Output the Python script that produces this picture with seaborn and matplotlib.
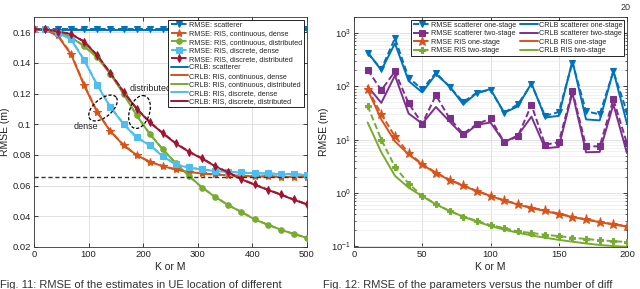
import numpy as np
import pandas as pd
import matplotlib
matplotlib.use("Agg")
import matplotlib.pyplot as plt
import seaborn as sns

# ---------------- data: left panel ----------------
K_left = [0, 20, 44, 68, 92, 116, 140, 164, 188, 212, 236, 260, 284, 308, 332, 356, 380, 404, 428, 452, 476, 500]
rmse_scatterer = [0.1625] * 22
rmse_cont_dense = [0.162, 0.162, 0.158, 0.146, 0.1257, 0.108, 0.0956, 0.0865, 0.080, 0.0756, 0.0728,
                   0.0706, 0.069, 0.068, 0.0674, 0.0668, 0.0664, 0.0662, 0.066, 0.0659, 0.0658, 0.0658]
rmse_cont_dist = [0.162, 0.162, 0.1605, 0.157, 0.151, 0.1437, 0.133, 0.120, 0.106, 0.0938, 0.0837,
                  0.0746, 0.0663, 0.0588, 0.0527, 0.0473, 0.0429, 0.0381, 0.0346, 0.0314, 0.0285, 0.0261]
rmse_disc_dense = [0.162, 0.162, 0.1598, 0.1556, 0.142, 0.1257, 0.1114, 0.1004, 0.0916, 0.0866, 0.0793,
                   0.0739, 0.0719, 0.0706, 0.0698, 0.0691, 0.0687, 0.0682, 0.068, 0.0678, 0.0676, 0.0670]
rmse_disc_dist = [0.162, 0.162, 0.1605, 0.159, 0.154, 0.145, 0.1334, 0.1213, 0.1103, 0.1015, 0.0943,
                  0.0876, 0.0822, 0.0778, 0.0728, 0.0686, 0.0643, 0.0608, 0.0575, 0.0543, 0.051, 0.0479]
crlb_scatterer = [0.1612] * 22
crlb_cont_dense = [0.162, 0.1618, 0.1575, 0.1455, 0.1252, 0.1077, 0.0954, 0.0863, 0.0799, 0.0755, 0.0727,
                   0.0705, 0.0689, 0.0679, 0.0673, 0.0667, 0.0663, 0.0661, 0.0659, 0.0658, 0.0657, 0.0657]
crlb_cont_dist = [0.162, 0.1618, 0.1603, 0.1568, 0.1508, 0.1435, 0.1328, 0.1198, 0.1058, 0.0937, 0.0836,
                  0.0745, 0.0662, 0.0587, 0.0526, 0.0472, 0.0428, 0.0380, 0.0345, 0.0313, 0.0284, 0.0260]
crlb_disc_dense = [0.162, 0.1618, 0.1596, 0.1553, 0.1417, 0.1254, 0.1111, 0.1001, 0.0913, 0.0864, 0.0791,
                   0.0737, 0.0717, 0.0704, 0.0696, 0.0689, 0.0685, 0.0680, 0.0678, 0.0676, 0.0674, 0.0668]
crlb_disc_dist = [0.162, 0.1618, 0.1603, 0.1588, 0.1538, 0.1448, 0.1332, 0.1211, 0.1101, 0.1013, 0.0941,
                  0.0874, 0.0820, 0.0776, 0.0726, 0.0684, 0.0641, 0.0606, 0.0573, 0.0541, 0.0508, 0.0477]
asymptote_left = 0.0657

# ---------------- data: right panel ----------------
K_right = [10, 20, 30, 40, 50, 60, 70, 80, 90, 100, 110, 120, 130, 140, 150, 160, 170, 180, 190, 200]
rmse_sc_one = [420, 210, 800, 145, 88, 180, 98, 51, 76, 86, 32, 46, 110, 28, 33, 280, 34, 30, 190, 33]
rmse_sc_two = [204, 85, 190, 48, 20, 68, 25, 13, 19.5, 25, 9, 11.5, 45, 8, 9, 82, 7.5, 7.5, 57, 8.5]
rmse_ris_one = [90, 30, 11.5, 5.6, 3.5, 2.4, 1.78, 1.39, 1.09, 0.89, 0.73, 0.62, 0.53, 0.47, 0.41,
                0.36, 0.32, 0.29, 0.26, 0.24]
rmse_ris_two = [43, 10, 3.1, 1.5, 0.88, 0.62, 0.46, 0.36, 0.30, 0.25, 0.22, 0.19, 0.178, 0.165, 0.155,
                0.145, 0.137, 0.130, 0.125, 0.120]
crlb_sc_one = [440, 200, 640, 126, 77, 170, 100, 46, 75, 89, 32, 42, 114, 26, 28, 300, 24, 23, 195, 20]
crlb_sc_two = [100, 49, 160, 31, 20, 41, 22, 12, 19, 21, 9, 12, 27, 6.9, 7.3, 76, 5.8, 5.9, 46, 5.6]
crlb_ris_one = [86, 24, 9.3, 5.3, 3.4, 2.35, 1.75, 1.37, 1.08, 0.88, 0.72, 0.61, 0.52, 0.46, 0.40,
                0.355, 0.315, 0.285, 0.255, 0.235]
crlb_ris_two = [21, 5.8, 2.1, 1.26, 0.87, 0.61, 0.46, 0.36, 0.29, 0.24, 0.205, 0.18, 0.16, 0.145, 0.132,
                0.122, 0.113, 0.106, 0.101, 0.098]

C_BLUE = "#0072BD"
C_ORANGE = "#D95319"
C_GREEN = "#77AC30"
C_CYAN = "#4DBEEE"
C_RED = "#A2142F"
C_PURPLE = "#7E2F8E"

sns.set_theme(style="ticks")
plt.rcParams["font.family"] = ["Liberation Sans", "DejaVu Sans"]
plt.rcParams["mathtext.fontset"] = "custom"
plt.rcParams["mathtext.rm"] = "Liberation Sans"

fig = plt.figure(figsize=(6.4, 2.89), dpi=100)
axL = fig.add_axes([34 / 640, 1 - 247 / 289, 273 / 640, 230 / 289])
axR = fig.add_axes([354 / 640, 1 - 247 / 289, 273 / 640, 230 / 289])


def draw(ax, x, y, color, marker=None, dashed=False, label=None, ms=4.5, lw=1.4, z=3):
    df = pd.DataFrame({"x": x, "y": y})
    kw = dict(color=color, linewidth=lw, label=label, zorder=z)
    if dashed:
        kw.update(linestyle=(0, (3.2, 1.6)), marker=marker, markersize=ms,
                  markeredgecolor=color, markerfacecolor=color)
    else:
        kw.update(linestyle="-")
    sns.lineplot(data=df, x="x", y="y", ax=ax, legend=False, **kw)


def ordered_legend(ax, order, **kw):
    h, l = ax.get_legend_handles_labels()
    d = dict(zip(l, h))
    leg = ax.legend([d[k] for k in order], order, **kw)
    leg.get_frame().set_linewidth(0.6)
    return leg


# ----- left panel -----
left_rmse = [
    (rmse_scatterer, C_BLUE, "v", "RMSE: scatterer"),
    (rmse_cont_dense, C_ORANGE, "*", "RMSE: RIS, continuous, dense"),
    (rmse_cont_dist, C_GREEN, "o", "RMSE: RIS, continuous, distributed"),
    (rmse_disc_dense, C_CYAN, "s", "RMSE: RIS, discrete, dense"),
    (rmse_disc_dist, C_RED, "d", "RMSE: RIS, discrete, distributed"),
]
left_crlb = [
    (crlb_scatterer, C_BLUE, "CRLB: scatterer"),
    (crlb_cont_dense, C_ORANGE, "CRLB: RIS, continuous, dense"),
    (crlb_cont_dist, C_GREEN, "CRLB: RIS, continuous, distributed"),
    (crlb_disc_dense, C_CYAN, "CRLB: RIS, discrete, dense"),
    (crlb_disc_dist, C_RED, "CRLB: RIS, discrete, distributed"),
]
for y, c, lab in left_crlb:
    draw(axL, K_left, y, c, label=lab, z=2)
for y, c, m, lab in left_rmse:
    ms = 6 if m == "*" else 4
    draw(axL, K_left, y, c, marker=m, dashed=True, label=lab, ms=ms, z=3)

axL.plot([0, 500], [asymptote_left, asymptote_left], color="#333333", lw=1.0,
         linestyle=(0, (3, 2)), zorder=4)

axL.set_xlim(0, 500)
axL.set_ylim(0.02, 0.17)
axL.set_xticks([0, 100, 200, 300, 400, 500])
axL.set_yticks([0.02, 0.04, 0.06, 0.08, 0.1, 0.12, 0.14, 0.16])
axL.set_yticklabels(["0.02", "0.04", "0.06", "0.08", "0.1", "0.12", "0.14", "0.16"])


def ellipse_pts(ax, cx_px, cy_px, a_px, b_px, ang_deg):
    # ellipse outline defined in display pixels, converted to data coords
    t = np.linspace(0, 2 * np.pi, 200)
    th = np.deg2rad(ang_deg)
    px = a_px * np.cos(t) * np.cos(th) - b_px * np.sin(t) * np.sin(th)
    py = a_px * np.cos(t) * np.sin(th) + b_px * np.sin(t) * np.cos(th)
    inv = ax.transData.inverted()
    pts = inv.transform(np.column_stack([cx_px + px, cy_px + py]))
    return pts[:, 0], pts[:, 1]


fig.canvas.draw()
H = 289
ex, ey = ellipse_pts(axL, 103, H - 108, 17, 9, 40)
axL.plot(ex, ey, color="black", lw=0.9, linestyle=(0, (2.5, 1.5)), zorder=5)
ex, ey = ellipse_pts(axL, 139.5, H - 112, 17, 10, 72)
axL.plot(ex, ey, color="black", lw=0.9, linestyle=(0, (2.5, 1.5)), zorder=5)
axL.text(95, 0.0985, "dense", fontsize=6.5, ha="center", va="center", color="#222222")
axL.text(214, 0.1232, "distributed", fontsize=6.5, ha="center", va="center", color="#222222")

left_order = [r[3] for r in left_rmse] + [r[2] for r in left_crlb]
ordered_legend(axL, left_order, loc="upper right", fontsize=5.2, frameon=True, fancybox=False,
               edgecolor="black", framealpha=1, borderpad=0.3, labelspacing=0.2,
               handlelength=2.4, handletextpad=0.15, borderaxespad=0.35)

# ----- right panel -----
right_rmse = [
    (rmse_sc_one, C_BLUE, "v", "RMSE scatterer one-stage"),
    (rmse_sc_two, C_PURPLE, "s", "RMSE scatterer two-stage"),
    (rmse_ris_one, C_ORANGE, "*", "RMSE RIS one-stage"),
    (rmse_ris_two, C_GREEN, "P", "RMSE RIS two-stage"),
]
right_crlb = [
    (crlb_sc_one, C_BLUE, "CRLB scatterer one-stage"),
    (crlb_sc_two, C_PURPLE, "CRLB scatterer two-stage"),
    (crlb_ris_one, C_ORANGE, "CRLB RIS one-stage"),
    (crlb_ris_two, C_GREEN, "CRLB RIS two-stage"),
]
for y, c, m, lab in right_rmse:
    ms = 6.5 if m == "*" else 4.5
    draw(axR, K_right, y, c, marker=m, dashed=True, label=lab, ms=ms, z=3)
for y, c, lab in right_crlb:
    draw(axR, K_right, y, c, label=lab, z=2)

axR.set_yscale("log")
axR.set_xlim(0, 200)
axR.set_ylim(0.097, 2000)
axR.set_xticks([0, 50, 100, 150, 200])
axR.set_yticks([0.1, 1, 10, 100, 1000])
axR.set_yticklabels([r"10$^{-1}$", r"10$^{0}$", r"10$^{1}$", r"10$^{2}$", r"10$^{3}$"])

right_order = [r[3] for r in right_rmse] + [r[2] for r in right_crlb]
ordered_legend(axR, right_order, loc="upper right", ncol=2, fontsize=5.2, frameon=True,
               fancybox=False, edgecolor="black", framealpha=1, borderpad=0.3,
               labelspacing=0.2, handlelength=2.4, handletextpad=0.15, columnspacing=0.5,
               borderaxespad=0.35)

for ax in (axL, axR):
    ax.set_xlabel("K or M", fontsize=7.5, labelpad=2, color="#222222")
    ax.set_ylabel("RMSE (m)", fontsize=7.5, labelpad=2, color="#222222")
    ax.tick_params(direction="in", top=True, right=True, labelsize=6.8, length=3,
                   width=0.6, pad=2, colors="#222222")
    ax.tick_params(which="minor", direction="in", top=True, right=True, length=1.5, width=0.5)
    ax.grid(True, which="major", color="#dcdcdc", linewidth=0.6)
    for s in ax.spines.values():
        s.set_linewidth(0.6)
        s.set_color("#333333")
axR.grid(True, which="minor", axis="y", color="#ebebeb", linewidth=0.5)
axR.tick_params(axis="x", which="minor", top=False, bottom=False)

fig.text(0.985, 0.975, "20", fontsize=6.5, ha="right", va="center", color="#333333")
fig.text(0.0, -0.005, "Fig. 11: RMSE of the estimates in UE location of different", fontsize=8,
         ha="left", va="bottom", color="#333333")
fig.text(0.505, -0.005, "Fig. 12: RMSE of the parameters versus the number of diff", fontsize=8,
         ha="left", va="bottom", color="#333333")

fig.savefig("out.png", dpi=100)
